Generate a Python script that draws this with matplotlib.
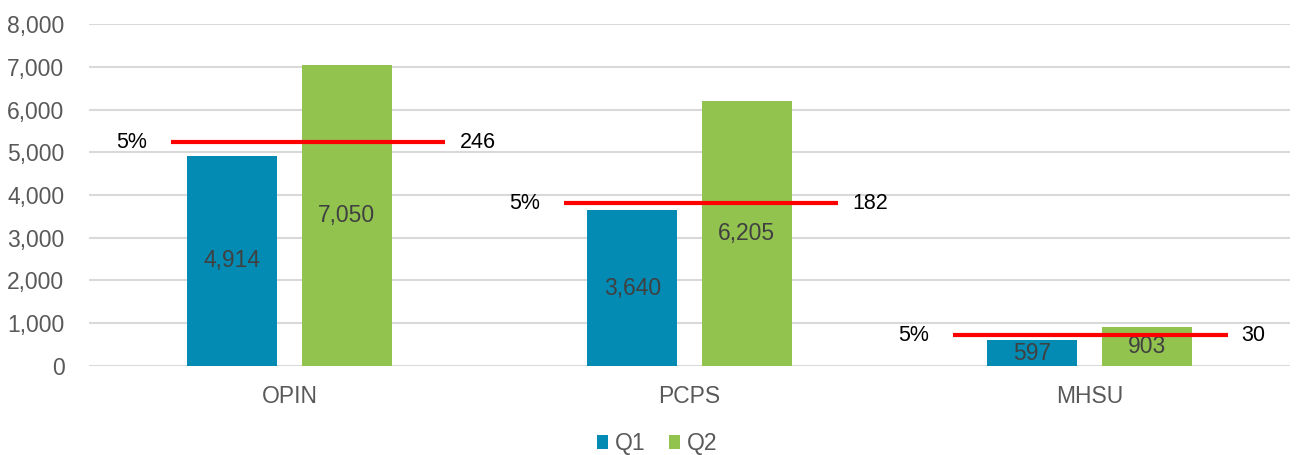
import numpy as np
import matplotlib.pyplot as plt
from matplotlib.ticker import FuncFormatter

plt.rcParams["font.family"] = ["Liberation Sans", "DejaVu Sans"]

# Data
categories = ["OPIN", "PCPS", "MHSU"]
q1 = [4914, 3640, 597]
q2 = [7050, 6205, 903]
threshold = [5240, 3810, 720]
threshold_labels = ["246", "182", "30"]
pct_label = "5%"

blue = "#038BB4"
green = "#92C34F"
grey_text = "#595959"

fig = plt.figure(figsize=(12.96, 4.55), dpi=100)
ax = fig.add_axes([0.069, 0.196, 0.926, 0.751])

x = np.arange(len(categories))
width = 0.225
offset = 0.143

b1 = ax.bar(x - offset, q1, width, color=blue, label="Q1", zorder=2)
b2 = ax.bar(x + offset, q2, width, color=green, label="Q2", zorder=2)

for bars, vals in [(b1, q1), (b2, q2)]:
    for rect, v in zip(bars, vals):
        ax.text(rect.get_x() + rect.get_width() / 2, v / 2, f"{v:,}",
                ha="center", va="center", fontsize=16.5, color="#404040", zorder=3)

# red 5% lines (slight per-group shift as in the original), drawn over the labels
line_len = 0.685
line_shift = [-0.295, -0.313, -0.34]
for xi, t, lab, sh in zip(x, threshold, threshold_labels, line_shift):
    x0, x1 = xi + sh, xi + sh + line_len
    ax.hlines(t, x0, x1, color="red", linewidth=3, zorder=5)
    ax.text(x0 - 0.06, t, pct_label, ha="right", va="center",
            fontsize=15.5, color="black", zorder=4)
    ax.text(x1 + 0.035, t, lab, ha="left", va="center",
            fontsize=15.5, color="black", zorder=4)

ax.set_xlim(-0.5, len(categories) - 0.5)
ax.set_ylim(0, 8000)
ax.set_yticks(np.arange(0, 8001, 1000))
ax.yaxis.set_major_formatter(FuncFormatter(lambda v, p: f"{int(v):,}"))
ax.set_xticks(x)
ax.set_xticklabels(categories)
ax.tick_params(axis="both", length=0, labelsize=16.5, colors=grey_text)
ax.tick_params(axis="x", pad=14)
ax.tick_params(axis="y", pad=18)

ax.grid(axis="y", color="#D9D9D9", linewidth=1.5, zorder=0)
ax.set_axisbelow(True)
for s in ax.spines.values():
    s.set_visible(False)

leg = fig.legend(handles=[b1, b2], loc="center", bbox_to_anchor=(0.507, 0.025),
                 ncol=2, frameon=False, fontsize=16.5, handlelength=0.5,
                 handleheight=0.5, handletextpad=0.3, columnspacing=1.0)
for t in leg.get_texts():
    t.set_color(grey_text)

fig.savefig("out.png", dpi=100)
